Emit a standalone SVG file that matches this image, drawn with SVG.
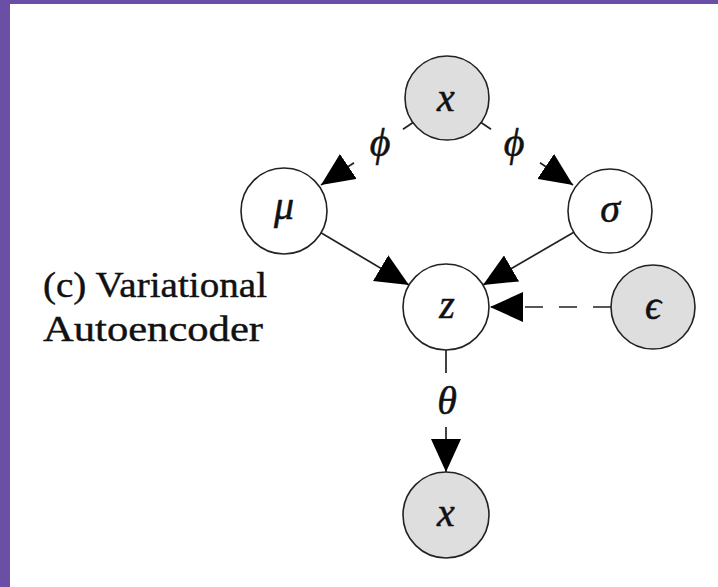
<svg xmlns="http://www.w3.org/2000/svg" width="718" height="587" viewBox="0 0 718 587">
  <style>
    .node circle { stroke: #222; stroke-width: 1.6; }
    .obs circle { fill: #dedede; }
    .lat circle { fill: #ffffff; }
    .math { font-family: "Liberation Serif", "DejaVu Serif", serif; font-style: italic; font-size: 40px; fill: #111; stroke: #111; stroke-width: 0.5; text-anchor: middle; }
    .cap { font-family: "Liberation Serif", "DejaVu Serif", serif; font-size: 35px; fill: #111; stroke: #111; stroke-width: 0.4; }
    .edge { stroke: #222; stroke-width: 1.7; fill: none; }
    .dashed { stroke-dasharray: 18 16; }
  </style>
  <defs>
    <marker id="head" markerUnits="userSpaceOnUse" markerWidth="34" markerHeight="30" refX="33" refY="15" orient="auto" viewBox="0 0 34 30">
      <path d="M0,0 L33,15 L0,30 Z" fill="#000"/>
    </marker>
  </defs>

  <!-- page frame -->
  <rect x="0" y="0" width="718" height="587" fill="#ffffff"/>
  <rect x="0" y="0" width="10" height="587" fill="#6b4fa6"/>
  <rect x="0" y="0" width="718" height="4" fill="#6b4fa6"/>

  <!-- caption -->
  <text class="cap" x="43" y="297" textLength="224" lengthAdjust="spacingAndGlyphs">(c) Variational</text>
  <text class="cap" x="43" y="341" textLength="220" lengthAdjust="spacingAndGlyphs">Autoencoder</text>

  <!-- connectors -->
  <g id="edges">
    <!-- x -> mu (phi) -->
    <line class="edge" x1="416" y1="120.5" x2="403" y2="129.3"/>
    <line class="edge" x1="354" y1="162.7" x2="321" y2="185" marker-end="url(#head)"/>
    <text class="math" x="380" y="156">ϕ</text>
    <!-- x -> sigma (phi) -->
    <line class="edge" x1="478" y1="120.5" x2="491" y2="129.3"/>
    <line class="edge" x1="540" y1="162.7" x2="573" y2="185" marker-end="url(#head)"/>
    <text class="math" x="514" y="156">ϕ</text>
    <!-- mu -> z -->
    <line class="edge" x1="318" y1="231" x2="409" y2="285" marker-end="url(#head)"/>
    <!-- sigma -> z -->
    <line class="edge" x1="576" y1="231" x2="483" y2="285" marker-end="url(#head)"/>
    <!-- epsilon -> z -->
    <line class="edge dashed" x1="611" y1="307" x2="490" y2="307" marker-end="url(#head)"/>
    <!-- z -> x (theta) -->
    <line class="edge" x1="446" y1="348" x2="446" y2="373"/>
    <line class="edge" x1="446" y1="427" x2="446" y2="472" marker-end="url(#head)"/>
    <text class="math" x="447" y="414">θ</text>
  </g>

  <!-- nodes -->
  <g id="x_in" class="node obs">
    <circle cx="447" cy="98" r="42"/>
    <text class="math" x="446" y="111">x</text>
  </g>
  <g id="mu" class="node lat">
    <circle cx="284" cy="211" r="43"/>
    <text class="math" x="284" y="219">μ</text>
  </g>
  <g id="sigma" class="node lat">
    <circle cx="610" cy="211" r="42"/>
    <text class="math" x="610" y="222">σ</text>
  </g>
  <g id="z" class="node lat">
    <circle cx="446" cy="307" r="43"/>
    <text class="math" x="447" y="318">z</text>
  </g>
  <g id="epsilon" class="node obs">
    <circle cx="653" cy="307" r="42"/>
    <text class="math" x="653" y="319">ϵ</text>
  </g>
  <g id="x_out" class="node obs">
    <circle cx="446" cy="515" r="43"/>
    <text class="math" x="446" y="526">x</text>
  </g>
</svg>
